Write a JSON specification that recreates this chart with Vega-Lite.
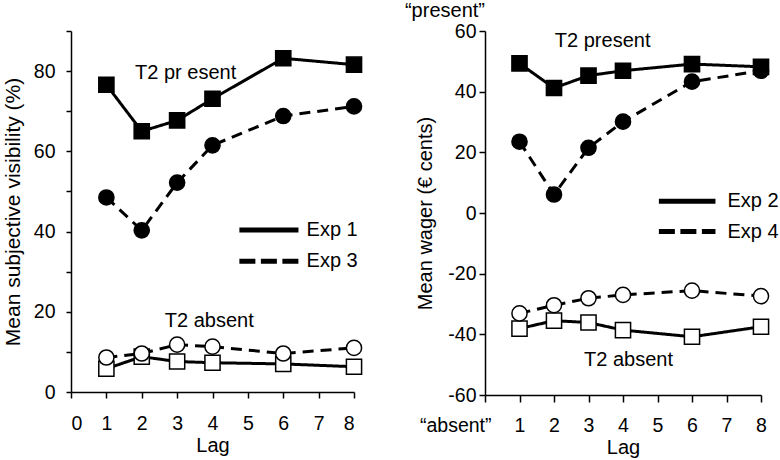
{
  "$schema": "https://vega.github.io/schema/vega-lite/v6.json",
  "background": "white",
  "padding": {"left": 2, "top": 0, "right": 5, "bottom": 0},
  "bounds": "flush",
  "spacing": 131,
  "config": {
    "font": "Liberation Sans",
    "view": {"stroke": null},
    "axis": {
      "grid": false,
      "domainColor": "black",
      "tickColor": "black",
      "labelColor": "black",
      "titleColor": "black",
      "labelFont": "Liberation Sans",
      "titleFont": "Liberation Sans",
      "labelFontSize": 19.5,
      "titleFontSize": 20,
      "titleFontWeight": "normal",
      "domainWidth": 1.5,
      "tickWidth": 1.5,
      "tickSize": 6
    },
    "text": {"font": "Liberation Sans", "fontSize": 20, "color": "black"}
  },
  "hconcat": [
    {
      "width": 283,
      "height": 361,
      "data": {"values": [
        {"exp": "Exp 1", "cond": "present", "lag": 1, "value": 76.6},
        {"exp": "Exp 1", "cond": "present", "lag": 2, "value": 65.0},
        {"exp": "Exp 1", "cond": "present", "lag": 3, "value": 67.7},
        {"exp": "Exp 1", "cond": "present", "lag": 4, "value": 73.1},
        {"exp": "Exp 1", "cond": "present", "lag": 6, "value": 83.2},
        {"exp": "Exp 1", "cond": "present", "lag": 8, "value": 81.6},
        {"exp": "Exp 3", "cond": "present", "lag": 1, "value": 48.5},
        {"exp": "Exp 3", "cond": "present", "lag": 2, "value": 40.3},
        {"exp": "Exp 3", "cond": "present", "lag": 3, "value": 52.2},
        {"exp": "Exp 3", "cond": "present", "lag": 4, "value": 61.5},
        {"exp": "Exp 3", "cond": "present", "lag": 6, "value": 68.8},
        {"exp": "Exp 3", "cond": "present", "lag": 8, "value": 71.2},
        {"exp": "Exp 1", "cond": "absent", "lag": 1, "value": 5.8},
        {"exp": "Exp 1", "cond": "absent", "lag": 2, "value": 8.8},
        {"exp": "Exp 1", "cond": "absent", "lag": 3, "value": 7.6},
        {"exp": "Exp 1", "cond": "absent", "lag": 4, "value": 7.3},
        {"exp": "Exp 1", "cond": "absent", "lag": 6, "value": 7.0},
        {"exp": "Exp 1", "cond": "absent", "lag": 8, "value": 6.3},
        {"exp": "Exp 3", "cond": "absent", "lag": 1, "value": 8.6},
        {"exp": "Exp 3", "cond": "absent", "lag": 2, "value": 9.6},
        {"exp": "Exp 3", "cond": "absent", "lag": 3, "value": 11.8},
        {"exp": "Exp 3", "cond": "absent", "lag": 4, "value": 11.3},
        {"exp": "Exp 3", "cond": "absent", "lag": 6, "value": 9.6},
        {"exp": "Exp 3", "cond": "absent", "lag": 8, "value": 11.0}
      ]},
      "encoding": {
        "x": {"field": "lag", "type": "quantitative", "scale": {"domain": [0, 8], "nice": false, "zero": false},
              "axis": {"values": [0, 1, 2, 3, 4, 5, 6, 7, 8], "title": "Lag", "labelPadding": 16, "titlePadding": 3}},
        "y": {"field": "value", "type": "quantitative", "scale": {"domain": [0, 90], "nice": false},
              "axis": {"values": [0, 10, 20, 30, 40, 50, 60, 70, 80, 90], "labelExpr": "datum.value % 20 == 0 && datum.value < 90 ? datum.label : ''",
                       "title": "Mean subjective visibility (%)", "titleFontSize": 21, "tickSize": 5, "labelPadding": 11, "titlePadding": 10}}
      },
      "layer": [
        {
          "mark": {"type": "line", "color": "black", "strokeWidth": 3},
          "encoding": {
            "strokeDash": {"field": "exp", "type": "nominal", "scale": {"domain": ["Exp 1", "Exp 3"], "range": [[1, 0], [11, 7]]}, "legend": null},
            "detail": {"field": "cond", "type": "nominal"}
          }
        },
        {
          "mark": {"type": "point", "filled": true, "size": 230, "stroke": "black", "strokeWidth": 1.5, "opacity": 1},
          "encoding": {
            "shape": {"field": "exp", "type": "nominal", "scale": {"domain": ["Exp 1", "Exp 3"], "range": ["square", "circle"]}, "legend": null},
            "fill": {"field": "cond", "type": "nominal", "scale": {"domain": ["present", "absent"], "range": ["black", "white"]}, "legend": null}
          }
        },
        {
          "data": {"values": [{"exp": "Exp 1", "lag": 4.76, "lag2": 6.43, "value": 40.4}]},
          "mark": {"type": "rule", "color": "black", "strokeWidth": 5},
          "encoding": {"x2": {"field": "lag2"}}
        },
        {
          "data": {"values": [{"exp": "Exp 3", "lag": 4.76, "lag2": 6.43, "value": 32.6}]},
          "mark": {"type": "rule", "color": "black", "strokeWidth": 5, "strokeDash": [16, 5.5]},
          "encoding": {"x2": {"field": "lag2"}}
        },
        {
          "data": {"values": [
            {"label": "Exp 1", "lag": 6.66, "value": 40.4},
            {"label": "Exp 3", "lag": 6.66, "value": 32.6}
          ]},
          "mark": {"type": "text", "align": "left", "baseline": "middle"},
          "encoding": {"text": {"field": "label", "type": "nominal"}}
        },
        {
          "data": {"values": [
            {"label": "T2 pr esent", "lag": 3.24, "value": 79.5},
            {"label": "T2 absent", "lag": 3.91, "value": 17.6}
          ]},
          "mark": {"type": "text", "align": "center", "baseline": "middle"},
          "encoding": {"text": {"field": "label", "type": "nominal"}}
        }
      ]
    },
    {
      "width": 276,
      "height": 364,
      "data": {"values": [
        {"exp": "Exp 2", "cond": "present", "lag": 1, "value": 49.3},
        {"exp": "Exp 2", "cond": "present", "lag": 2, "value": 41.2},
        {"exp": "Exp 2", "cond": "present", "lag": 3, "value": 45.3},
        {"exp": "Exp 2", "cond": "present", "lag": 4, "value": 46.9},
        {"exp": "Exp 2", "cond": "present", "lag": 6, "value": 49.1},
        {"exp": "Exp 2", "cond": "present", "lag": 8, "value": 48.2},
        {"exp": "Exp 4", "cond": "present", "lag": 1, "value": 23.5},
        {"exp": "Exp 4", "cond": "present", "lag": 2, "value": 6.1},
        {"exp": "Exp 4", "cond": "present", "lag": 3, "value": 21.5},
        {"exp": "Exp 4", "cond": "present", "lag": 4, "value": 30.1},
        {"exp": "Exp 4", "cond": "present", "lag": 6, "value": 43.3},
        {"exp": "Exp 4", "cond": "present", "lag": 8, "value": 46.9},
        {"exp": "Exp 2", "cond": "absent", "lag": 1, "value": -38.1},
        {"exp": "Exp 2", "cond": "absent", "lag": 2, "value": -35.5},
        {"exp": "Exp 2", "cond": "absent", "lag": 3, "value": -36.1},
        {"exp": "Exp 2", "cond": "absent", "lag": 4, "value": -38.6},
        {"exp": "Exp 2", "cond": "absent", "lag": 6, "value": -40.8},
        {"exp": "Exp 2", "cond": "absent", "lag": 8, "value": -37.5},
        {"exp": "Exp 4", "cond": "absent", "lag": 1, "value": -33.1},
        {"exp": "Exp 4", "cond": "absent", "lag": 2, "value": -30.4},
        {"exp": "Exp 4", "cond": "absent", "lag": 3, "value": -28.1},
        {"exp": "Exp 4", "cond": "absent", "lag": 4, "value": -27.0},
        {"exp": "Exp 4", "cond": "absent", "lag": 6, "value": -25.6},
        {"exp": "Exp 4", "cond": "absent", "lag": 8, "value": -27.4}
      ]},
      "encoding": {
        "x": {"field": "lag", "type": "quantitative", "scale": {"domain": [0, 8], "nice": false, "zero": false},
              "axis": {"values": [0, 1, 2, 3, 4, 5, 6, 7, 8], "title": "Lag", "tickSize": 7, "labelPadding": 14, "titlePadding": 3,
                       "labelExpr": "datum.value == 0 ? '“absent”' : datum.label",
                       "labelAlign": {"condition": {"test": "datum.value == 0", "value": "right"}, "value": "center"},
                       "labelOffset": {"condition": {"test": "datum.value == 0", "value": 6}, "value": 0}}},
        "y": {"field": "value", "type": "quantitative", "scale": {"domain": [-60, 60], "nice": false},
              "axis": {"values": [-60, -40, -20, 0, 20, 40, 60], "labelExpr": "toString(datum.value)", "title": "Mean wager (€ cents)", "tickSize": 6, "labelPadding": 3, "titlePadding": 12}}
      },
      "layer": [
        {
          "mark": {"type": "line", "color": "black", "strokeWidth": 3},
          "encoding": {
            "strokeDash": {"field": "exp", "type": "nominal", "scale": {"domain": ["Exp 2", "Exp 4"], "range": [[1, 0], [11, 7]]}, "legend": null},
            "detail": {"field": "cond", "type": "nominal"}
          }
        },
        {
          "mark": {"type": "point", "filled": true, "size": 230, "stroke": "black", "strokeWidth": 1.5, "opacity": 1},
          "encoding": {
            "shape": {"field": "exp", "type": "nominal", "scale": {"domain": ["Exp 2", "Exp 4"], "range": ["square", "circle"]}, "legend": null},
            "fill": {"field": "cond", "type": "nominal", "scale": {"domain": ["present", "absent"], "range": ["black", "white"]}, "legend": null}
          }
        },
        {
          "data": {"values": [{"exp": "Exp 2", "lag": 5.04, "lag2": 6.68, "value": 3.9}]},
          "mark": {"type": "rule", "color": "black", "strokeWidth": 5},
          "encoding": {"x2": {"field": "lag2"}}
        },
        {
          "data": {"values": [{"exp": "Exp 4", "lag": 5.04, "lag2": 6.68, "value": -6.1}]},
          "mark": {"type": "rule", "color": "black", "strokeWidth": 5, "strokeDash": [16, 5.5]},
          "encoding": {"x2": {"field": "lag2"}}
        },
        {
          "data": {"values": [
            {"label": "Exp 2", "lag": 7.03, "value": 3.9},
            {"label": "Exp 4", "lag": 7.03, "value": -6.1}
          ]},
          "mark": {"type": "text", "align": "left", "baseline": "middle"},
          "encoding": {"text": {"field": "label", "type": "nominal"}}
        },
        {
          "data": {"values": [
            {"label": "T2 present", "lag": 3.41, "value": 56.6},
            {"label": "T2 absent", "lag": 4.16, "value": -48.3},
            {"label": "“present”", "lag": -1.16, "value": 66.6}
          ]},
          "mark": {"type": "text", "align": "center", "baseline": "middle"},
          "encoding": {"text": {"field": "label", "type": "nominal"}}
        }
      ]
    }
  ],
  "resolve": {"scale": {"x": "independent", "y": "independent", "strokeDash": "independent", "shape": "independent", "fill": "independent"}}
}
